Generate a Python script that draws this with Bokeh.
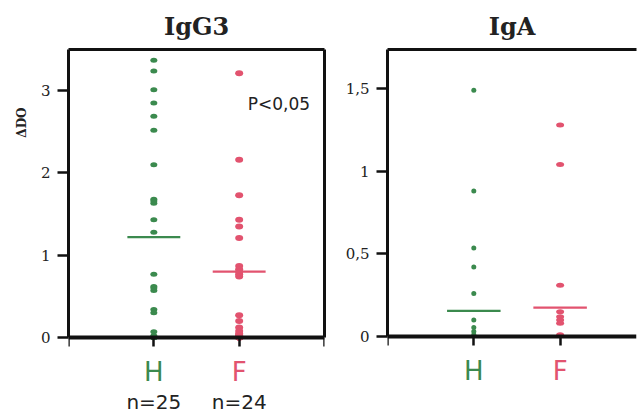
from bokeh.plotting import figure
from bokeh.layouts import row
from bokeh.models import Label, FixedTicker, LinearAxis, Range1d, Title
from bokeh.embed import file_html
from bokeh.resources import INLINE

GREEN = "#3b8a4e"
RED = "#e2536f"

groups = ["H", "F"]
group_pos = [1, 2]
group_n = ["n=25", "n=24"]

igg3_H = [3.37, 3.24, 3.01, 2.85, 2.69, 2.52, 2.10, 1.68, 1.63, 1.66, 1.43, 1.28,
          0.77, 0.62, 0.57, 0.60, 0.34, 0.30, 0.07, 0.02, 0.01, 0.0, 0.0, 0.0, 0.0]
igg3_F = [3.21, 2.16, 1.73, 1.43, 1.35, 1.21, 0.87, 0.83, 0.80, 0.77, 0.74, 0.27,
          0.20, 0.12, 0.08, 0.05, 0.03, 0.02, 0.01, 0.0, 0.0, 0.0, 0.0, 0.0]
igg3_means = [1.22, 0.80]

iga_H = [1.49, 0.88, 0.535, 0.42, 0.26, 0.10, 0.055, 0.03, 0.01]
iga_F = [1.28, 1.04, 0.31, 0.15, 0.12, 0.10, 0.08, 0.01]
iga_means = [0.155, 0.175]

igg3_yticks = [0, 1, 2, 3]
igg3_ylabels = {0: "0", 1: "1", 2: "2", 3: "3"}
iga_yticks = [0, 0.5, 1, 1.5]
iga_ylabels = {0: "0", 0.5: "0,5", 1: "1", 1.5: "1,5"}

SERIF = "DejaVu Serif"
SANS = "DejaVu Sans"
INK = "#111111"


def base(width, height, x_end, y_start, y_end, bl, br, bt, fw, fh):
    p = figure(width=width, height=height, output_backend="svg", toolbar_location=None,
               x_range=Range1d(0, x_end), y_range=Range1d(y_start, y_end),
               frame_width=fw, frame_height=fh,
               min_border_left=bl, min_border_right=br, min_border_top=bt, min_border_bottom=0,
               x_axis_location=None, y_axis_location=None)
    p.grid.visible = False
    p.outline_line_color = None
    p.background_fill_color = "white"
    p.border_fill_color = "white"
    return p


def style_y(ax, ticks, labels, y_end):
    ax.ticker = FixedTicker(ticks=ticks)
    ax.bounds = (0, y_end)
    ax.major_label_overrides = {k: v for k, v in labels.items()}
    ax.axis_line_width = 3
    ax.axis_line_color = INK
    ax.major_tick_line_width = 2.5
    ax.major_tick_line_color = INK
    ax.major_tick_out = 11
    ax.major_tick_in = 0
    ax.minor_tick_line_color = None
    ax.major_label_text_font = SERIF
    ax.major_label_text_font_size = "15px"
    ax.major_label_text_color = "#222222"
    ax.major_label_standoff = 7


def style_x(ax, ticks):
    ax.ticker = FixedTicker(ticks=ticks)
    ax.fixed_location = 0
    ax.major_label_overrides = {t: "" for t in ticks}
    ax.axis_line_width = 4
    ax.axis_line_color = INK
    ax.major_tick_line_width = 2.5
    ax.major_tick_line_color = INK
    ax.major_tick_out = 9
    ax.major_tick_in = 0
    ax.minor_tick_line_color = None


def frame_line(ax, bounds):
    ax.ticker = FixedTicker(ticks=[])
    ax.bounds = bounds
    ax.major_label_overrides = {}
    ax.axis_line_width = 3
    ax.axis_line_color = INK
    ax.major_tick_line_color = None
    ax.minor_tick_line_color = None
    ax.major_label_standoff = 0
    ax.major_label_text_font_size = "0px"
    ax.axis_label_standoff = 0
    ax.major_tick_out = 0


def dots(p, xpos, vals, color, w, h):
    p.ellipse(x=[xpos] * len(vals), y=vals, width=w, height=h,
              width_units="screen", height_units="screen",
              fill_color=color, line_color=None)


def mean_lines(p, means, colors, half):
    p.segment(x0=[g - half for g in group_pos], x1=[g + half for g in group_pos],
              y0=means, y1=means, line_color=colors, line_width=2.2)


def add_title(p, text):
    t = Title(text=text, text_font=SERIF, text_font_style="bold", text_font_size="24px",
              align="center", text_color="#222222", standoff=17)
    p.add_layout(t, "above")


# ---------- IgG3 ----------
Y1_END = 3.5
p1 = base(334, 415, 3, -0.948, Y1_END, 68, 10, 49, 256, 366)
ya = LinearAxis()
style_y(ya, igg3_yticks, igg3_ylabels, Y1_END)
p1.add_layout(ya, "left")
xa = LinearAxis()
style_x(xa, [0, 1, 2, 3])
p1.add_layout(xa, "below")
ta = LinearAxis()
frame_line(ta, (0, 3))
p1.add_layout(ta, "above")
ra = LinearAxis()
frame_line(ra, (0, Y1_END))
p1.add_layout(ra, "right")
add_title(p1, "IgG3")
p1.add_layout(Title(text="ΔDO", text_font=SERIF, text_font_style="bold", text_font_size="12px",
                    align="right", offset=58, standoff=17, text_color="#222222"), "left")

dots(p1, group_pos[0], igg3_H, GREEN, 7, 5)
dots(p1, group_pos[1], igg3_F, RED, 8, 6)
mean_lines(p1, igg3_means, [GREEN, RED], 0.31)

p1.add_layout(Label(x=2.10, y=2.84, text="P<0,05", text_font=SANS, text_font_size="17px",
                    text_align="left", text_baseline="middle", text_color="#222222"))
for g, pos, c, n in zip(groups, group_pos, [GREEN, RED], group_n):
    p1.add_layout(Label(x=pos, y=-0.425, text=g, text_font=SANS, text_font_size="26px",
                        text_align="center", text_baseline="middle", text_color=c))
    p1.add_layout(Label(x=pos, y=-0.78, text=n, text_font=SANS, text_font_size="20px",
                        text_align="center", text_baseline="middle", text_color="#222222"))

# ---------- IgA ----------
Y2_END = 1.736
p2 = base(305, 415, 2.885, -0.484, Y2_END, 53, 3, 48, 249, 367)
ya2 = LinearAxis()
style_y(ya2, iga_yticks, iga_ylabels, Y2_END)
p2.add_layout(ya2, "left")
xa2 = LinearAxis()
style_x(xa2, [0, 1, 2])
p2.add_layout(xa2, "below")
ta2 = LinearAxis()
frame_line(ta2, (0, 2.885))
p2.add_layout(ta2, "above")
add_title(p2, "IgA")

dots(p2, group_pos[0], iga_H, GREEN, 5, 5)
dots(p2, group_pos[1], iga_F, RED, 8, 5)
mean_lines(p2, iga_means, [GREEN, RED], 0.31)

for g, pos, c in zip(groups, group_pos, [GREEN, RED]):
    p2.add_layout(Label(x=pos, y=-0.21, text=g, text_font=SANS, text_font_size="26px",
                        text_align="center", text_baseline="middle", text_color=c))

layout = row(p1, p2)
open("out.html", "w").write(file_html(layout, INLINE))
